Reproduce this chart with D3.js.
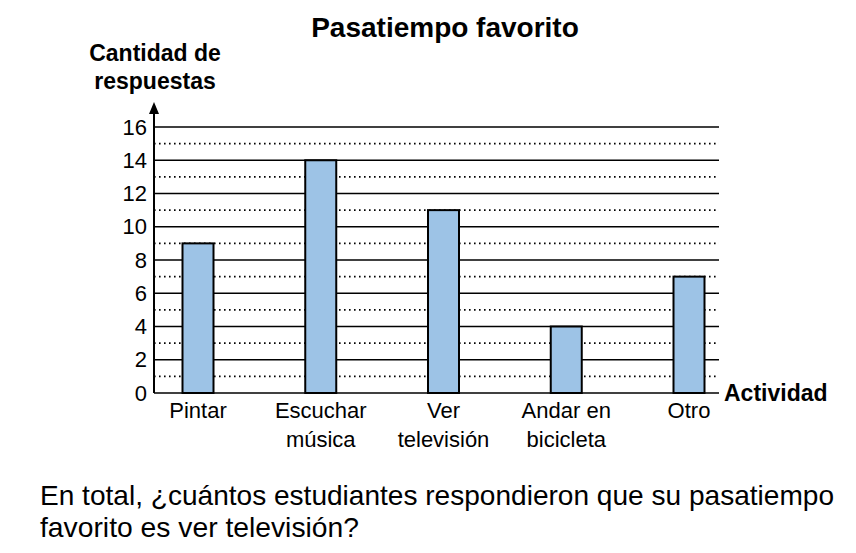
<!DOCTYPE html>
<html>
<head>
<meta charset="utf-8">
<script src="https://cdn.jsdelivr.net/npm/d3@7"></script>
<style>
  html, body { margin: 0; padding: 0; background: #fff; }
  svg { display: block; }
</style>
</head>
<body>
<svg id="chart"></svg>
<script>
// Data
const categories = ["Pintar", "Escuchar\nmúsica", "Ver\ntelevisión", "Andar en\nbicicleta", "Otro"];
const counts = [9, 14, 11, 4, 7];
const yTicks = [0, 2, 4, 6, 8, 10, 12, 14, 16];
const dottedLevels = [1, 3, 5, 7, 9, 11, 13, 15];

const width = 856;
const height = 553;
const margin = { top: 127, right: 137, bottom: 160, left: 154 };
const innerWidth = width - margin.left - margin.right;
const innerHeight = height - margin.top - margin.bottom;
const font = "'Liberation Sans', Arial, sans-serif";

const svg = d3.select("#chart")
  .attr("width", width)
  .attr("height", height)
  .attr("font-family", font);
const g = svg.append("g").attr("transform", `translate(${margin.left},${margin.top})`);

// Scales
const x = d3.scalePoint()
  .domain(categories)
  .range([44, 535]);

const y = d3.scaleLinear()
  .domain([0, 16])
  .range([innerHeight, 0]);

const barWidth = 31;

// Dotted grid lines at odd values
g.append("g")
  .selectAll("line")
  .data(dottedLevels)
  .join("line")
  .attr("x1", 0)
  .attr("x2", innerWidth)
  .attr("y1", d => y(d))
  .attr("y2", d => y(d))
  .attr("stroke", "#000")
  .attr("stroke-width", 1.6)
  .attr("stroke-dasharray", "1.6,3.4");

// Solid grid lines at even values
g.append("g")
  .selectAll("line")
  .data(yTicks)
  .join("line")
  .attr("x1", 0)
  .attr("x2", innerWidth)
  .attr("y1", d => y(d))
  .attr("y2", d => y(d))
  .attr("stroke", "#000")
  .attr("stroke-width", 1.6);

// Bars
g.append("g")
  .selectAll("rect")
  .data(counts)
  .join("rect")
  .attr("x", (d, i) => x(categories[i]) - barWidth / 2)
  .attr("y", d => y(d))
  .attr("width", barWidth)
  .attr("height", d => y(0) - y(d))
  .attr("fill", "#9dc3e6")
  .attr("stroke", "#000")
  .attr("stroke-width", 2);

// Y axis (labels only, line drawn separately)
const yAxis = g.append("g")
  .call(d3.axisLeft(y).tickValues(yTicks).tickSize(0).tickPadding(7))
  .attr("font-family", font)
  .attr("font-size", 22);
yAxis.select(".domain").remove();
yAxis.selectAll("text").attr("fill", "#000");

// Y axis line with arrow
g.append("line")
  .attr("x1", 0).attr("x2", 0)
  .attr("y1", y(0)).attr("y2", -14)
  .attr("stroke", "#000")
  .attr("stroke-width", 2);
g.append("path")
  .attr("d", "M-5,-13 L0,-25 L5,-13 Z")
  .attr("fill", "#000");

// Category labels, one text per line
const labelGroups = g.append("g")
  .attr("font-size", 22)
  .attr("text-anchor", "middle")
  .selectAll("g")
  .data(categories)
  .join("g")
  .attr("transform", d => `translate(${x(d)},${innerHeight + 25})`);
labelGroups.selectAll("text")
  .data(d => d.split("\n"))
  .join("text")
  .attr("y", (d, i) => i * 29)
  .text(d => d);

// X axis title
g.append("text")
  .attr("x", innerWidth + 5)
  .attr("y", innerHeight + 8)
  .attr("font-size", 23)
  .attr("font-weight", "bold")
  .text("Actividad");

// Y axis title
svg.append("text")
  .attr("x", 155)
  .attr("y", 61)
  .attr("text-anchor", "middle")
  .attr("font-size", 23)
  .attr("font-weight", "bold")
  .text("Cantidad de");
svg.append("text")
  .attr("x", 155)
  .attr("y", 89)
  .attr("text-anchor", "middle")
  .attr("font-size", 23)
  .attr("font-weight", "bold")
  .text("respuestas");

// Title
svg.append("text")
  .attr("x", 445)
  .attr("y", 37)
  .attr("text-anchor", "middle")
  .attr("font-size", 28)
  .attr("font-weight", "bold")
  .text("Pasatiempo favorito");

// Question
svg.append("text")
  .attr("x", 40)
  .attr("y", 505)
  .attr("textLength", 794)
  .attr("lengthAdjust", "spacingAndGlyphs")
  .attr("font-size", 28)
  .text("En total, ¿cuántos estudiantes respondieron que su pasatiempo");
svg.append("text")
  .attr("x", 40)
  .attr("y", 537)
  .attr("textLength", 319)
  .attr("lengthAdjust", "spacingAndGlyphs")
  .attr("font-size", 28)
  .text("favorito es ver televisión?");
</script>
</body>
</html>
